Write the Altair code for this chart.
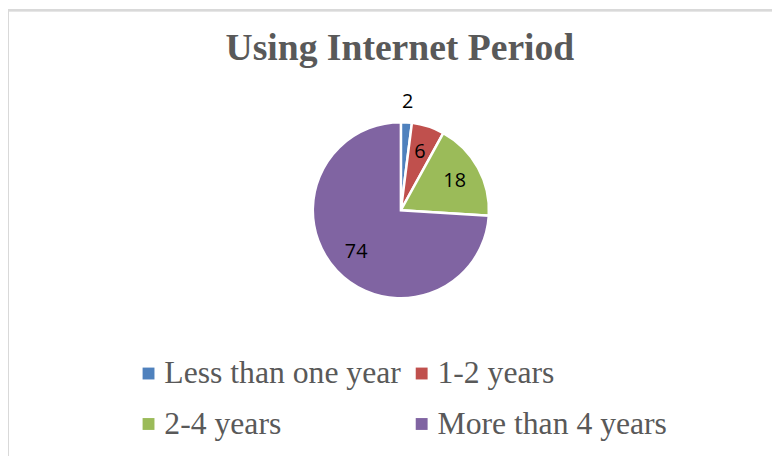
import altair as alt
import pandas as pd

categories = ["Less than one year", "1-2 years", "2-4 years", "More than 4 years"]
values = [2, 6, 18, 74]
colors = ["#4f81bd", "#c0504d", "#9bbb59", "#8064a2"]

df = pd.DataFrame({"category": categories, "value": values, "idx": list(range(len(values)))})

CX, CY = 397, 202

base = alt.Chart(df).encode(
    theta=alt.Theta("value:Q", stack=True),
    order=alt.Order("idx:Q"),
    x=alt.value(CX),
    y=alt.value(CY),
)

border = alt.Chart(df).mark_rect(fill=None, stroke="#d9d9d9", strokeWidth=2).encode(
    x=alt.value(0), x2=alt.value(900), y=alt.value(0), y2=alt.value(600)
)

pie = base.mark_arc(outerRadius=89, stroke="white", strokeWidth=2.5).encode(
    color=alt.Color(
        "category:N",
        scale=alt.Scale(domain=categories, range=colors),
        legend=alt.Legend(
            title=None,
            orient="none",
            direction="horizontal",
            legendX=126,
            legendY=351,
            columns=2,
            symbolType="square",
            symbolSize=144,
            symbolStrokeWidth=0,
            labelFont="Liberation Serif",
            labelFontSize=32,
            labelColor="#595959",
            labelLimit=0,
            labelOffset=0,
            rowPadding=19,
            columnPadding=4,
        ),
    )
)

inner = base.mark_text(radius=62, fontSize=20, font="Open Sans", color="black").encode(
    text=alt.condition("datum.value >= 5", alt.Text("value:Q"), alt.value(""))
)
outer = base.mark_text(radius=110, fontSize=20, font="Open Sans", color="black").encode(
    text=alt.condition("datum.value < 5", alt.Text("value:Q"), alt.value(""))
)

chart = (
    alt.layer(border, pie, inner, outer)
    .properties(
        width=772,
        height=448,
        autosize=alt.AutoSizeParams(type="none"),
        padding=0,
        title=alt.TitleParams(
            "Using Internet Period",
            font="Liberation Serif",
            fontSize=38,
            fontWeight="bold",
            color="#595959",
            anchor="middle",
            offset=-59,
            dx=10,
        ),
    )
    .configure_view(stroke=None)
)

chart.save("out.html", embed_options={"renderer": "svg", "actions": False})
